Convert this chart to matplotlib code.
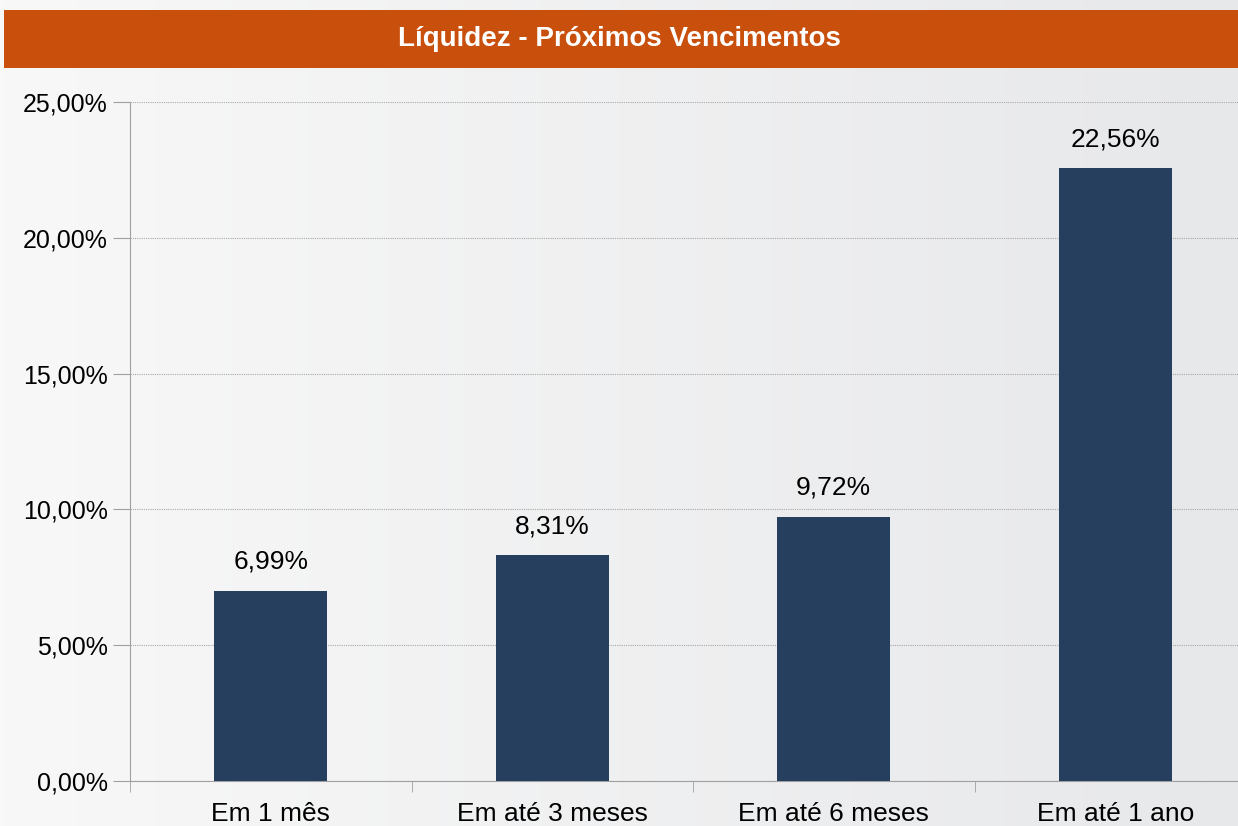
import numpy as np
import matplotlib.pyplot as plt
from matplotlib.patches import Rectangle
from matplotlib.colors import LinearSegmentedColormap
from matplotlib.ticker import FuncFormatter

categorias = ["Em 1 mês", "Em até 3 meses", "Em até 6 meses", "Em até 1 ano"]
valores = [6.99, 8.31, 9.72, 22.56]
titulo = "Líquidez - Próximos Vencimentos"

plt.rcParams["font.family"] = ["Liberation Sans", "DejaVu Sans"]

W, H = 1238, 826
fig = plt.figure(figsize=(W / 100, H / 100), dpi=100)

# fundo em degradê claro
bg = fig.add_axes([0, 0, 1, 1], zorder=-10)
grad = np.linspace(0, 1, 256).reshape(1, -1)
cmap = LinearSegmentedColormap.from_list("bg", ["#f8f8f8", "#e7e8ea"])
bg.imshow(grad, aspect="auto", cmap=cmap, extent=[0, 1, 0, 1])
bg.axis("off")

# faixa do título
fig.patches.append(Rectangle((4 / W, 1 - 68 / H), 1, 58 / H, transform=fig.transFigure,
                             facecolor="#c94f0c", edgecolor="none"))
fig.text(0.5, 1 - 39 / H, titulo, color="white", fontsize=20, fontweight="bold",
         ha="center", va="center")

# eixo principal (estende-se além da borda direita)
left, right = 130, 1256
top, bottom = 102, 781
ax = fig.add_axes([left / W, 1 - bottom / H, (right - left) / W, (bottom - top) / H])
ax.set_facecolor("none")

x = np.arange(len(categorias))
ax.bar(x, valores, width=0.4, color="#263f5f", zorder=3)
for xi, v in zip(x, valores):
    ax.annotate(f"{v:.2f}%".replace(".", ","), (xi, v), xytext=(0, 21),
                textcoords="offset points", ha="center", va="center", fontsize=19)

ax.set_xlim(-0.5, len(categorias) - 0.5)
ax.set_ylim(0, 25)
ax.set_yticks(np.arange(0, 26, 5))
ax.yaxis.set_major_formatter(FuncFormatter(lambda v, p: f"{v:.2f}%".replace(".", ",")))
ax.set_xticks(x)
ax.set_xticklabels(categorias, fontsize=19)
ax.set_xticks(np.arange(-0.5, len(categorias), 1), minor=True)
ax.tick_params(axis="x", which="major", length=0, pad=15)
ax.tick_params(axis="x", which="minor", length=8, color="#a0a0a0")
ax.tick_params(axis="y", length=12, color="#a0a0a0", labelsize=18, pad=4)

ax.grid(axis="y", color="#a8a8a8", linestyle=(0, (1, 1)), linewidth=0.8, zorder=0)
for s in ["top", "right"]:
    ax.spines[s].set_visible(False)
ax.spines["left"].set_color("#a0a0a0")
ax.spines["bottom"].set_color("#a0a0a0")

fig.savefig("out.png", dpi=100)
